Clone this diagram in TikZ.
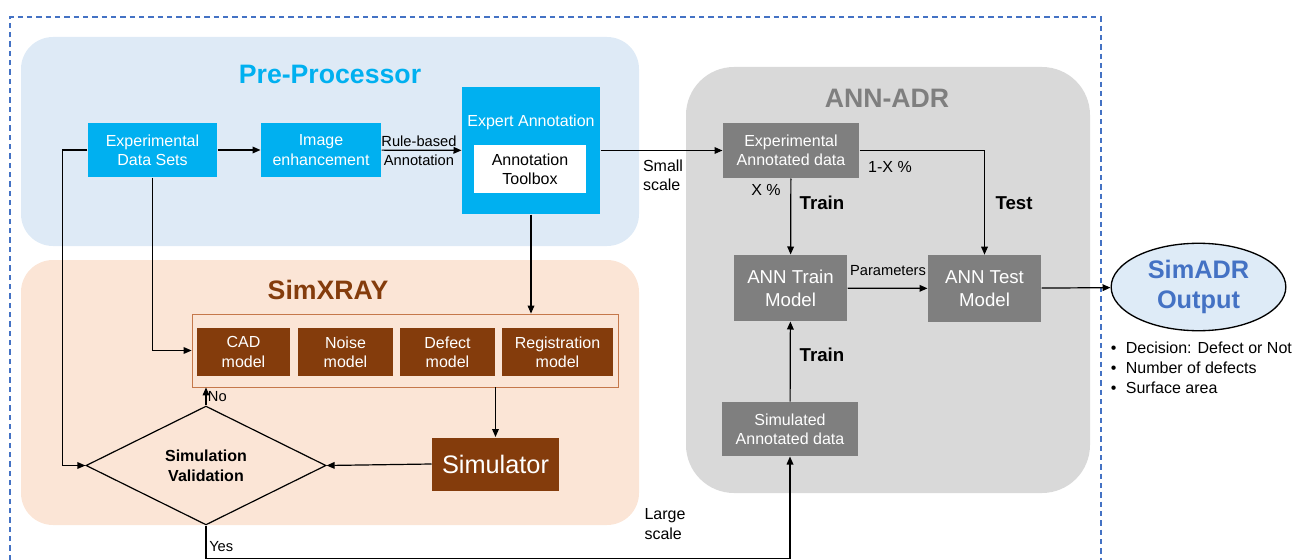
\documentclass[tikz,border=0pt]{standalone}
\usepackage{fontspec}
\setmainfont{Liberation Sans}
\usetikzlibrary{arrows.meta,shapes.geometric}

\definecolor{prebg}{RGB}{222,234,246}
\definecolor{precyan}{RGB}{0,176,240}
\definecolor{simbg}{RGB}{251,229,214}
\definecolor{simbrown}{RGB}{132,60,12}
\definecolor{simedge}{RGB}{197,120,75}
\definecolor{annbg}{RGB}{217,217,217}
\definecolor{anngray}{RGB}{127,127,127}
\definecolor{outblue}{RGB}{68,114,196}
\definecolor{outbg}{RGB}{222,235,247}
\definecolor{framecol}{RGB}{68,114,196}

\tikzset{every picture/.style={line width=0.75pt},
  arr/.style={-{Triangle[length=6pt,width=5pt]}, line width=0.9pt},
  prebox/.style={fill=precyan, text=white, align=center, inner sep=2pt, font=\fontsize{12}{14.5}\selectfont},
  modelbox/.style={fill=simbrown, text=white, align=center, inner sep=2pt, minimum height=36pt, font=\fontsize{12}{14.5}\selectfont},
  annbox/.style={fill=anngray, text=white, align=center, inner sep=2pt},
  title/.style={font=\fontsize{20}{24}\selectfont\bfseries},
  lbl/.style={font=\fontsize{12}{14.5}\selectfont, align=left},
  boldlbl/.style={font=\fontsize{14}{17}\selectfont\bfseries}
}

\begin{document}
\begin{tikzpicture}[x=0.75pt,y=0.75pt,yscale=-1,xscale=1]
	\useasboundingbox (0,0) rectangle (1311,560);

	%Outer dashed frame
	\draw [framecol, line width=0.8pt, dash pattern=on 4pt off 3pt] (10,560) -- (10,17) -- (1101,17) -- (1101,560) ;
	%Shape: Pre-Processor region
	\fill [prebg, rounded corners=24pt] (21,37) rectangle (639,246) ;
	%Shape: SimXRAY region
	\fill [simbg, rounded corners=24pt] (21,260) rectangle (639,525) ;
	%Shape: ANN-ADR region
	\fill [annbg, rounded corners=36pt] (686,67) rectangle (1090,493) ;

	% Titles
	\node [title, text=precyan] (pretitle) at (330,74) {Pre-Processor};
	\node [title, text=simbrown] (simtitle) at (328,290) {SimXRAY};
	\node [title, text=anngray] (anntitle) at (887,98) {ANN-ADR};

	% Pre-Processor boxes
	\node [prebox, minimum width=97pt, minimum height=40.5pt] (eds) at (152.5,150) {Experimental\\Data Sets};
	\node [prebox, minimum width=90pt, minimum height=40.5pt] (imgenh) at (321,150) {Image\\enhancement};
	\node [fill=precyan, minimum width=103.5pt, minimum height=95.25pt] (expann) at (531,150.5) {};
	\node [prebox, fill=none] (expannlbl) at (531,122) {Expert Annotation};
	\node [fill=white, align=center, minimum width=84pt, minimum height=36pt, inner sep=2pt, font=\fontsize{12}{14.5}\selectfont] (toolbox) at (530,169) {Annotation\\Toolbox};

	% SimXRAY boxes
	\node [draw=simedge, line width=0.6pt, minimum width=319.5pt, minimum height=54.75pt] (models) at (405,350.5) {};
	\node [modelbox, minimum width=69.75pt] (cad) at (243.5,352) {CAD\\model};
	\node [modelbox, minimum width=71.25pt] (noise) at (345.5,352) {Noise\\model};
	\node [modelbox, minimum width=71.25pt] (defect) at (447.5,352) {Defect\\model};
	\node [modelbox, minimum width=83.25pt] (regist) at (557.5,352) {Registration\\model};
	\node [fill=simbrown, text=white, minimum width=95.25pt, minimum height=39.75pt, font=\fontsize{19}{22}\selectfont] (simulator) at (495.5,464) {Simulator};
	\node [draw, diamond, line width=0.9pt, minimum width=180pt, minimum height=71.25pt, align=center, inner sep=1pt, font=\fontsize{12}{15}\selectfont\bfseries] (valid) at (206,465.5) {Simulation\\Validation};

	% ANN-ADR boxes
	\node [annbox, minimum width=102pt, minimum height=41.25pt, font=\fontsize{12}{14.5}\selectfont] (expdata) at (791,150.5) {Experimental\\Annotated data};
	\node [annbox, minimum width=84.75pt, minimum height=49.5pt, font=\fontsize{14}{17}\selectfont] (anntrain) at (790.5,288) {ANN Train\\Model};
	\node [annbox, minimum width=84.75pt, minimum height=50pt, font=\fontsize{14}{17}\selectfont] (anntest) at (984.5,288.5) {ANN Test\\Model};
	\node [annbox, minimum width=102pt, minimum height=40.5pt, font=\fontsize{12}{14.5}\selectfont] (simdata) at (790,429) {Simulated\\Annotated data};

	% Output
	\node [draw, ellipse, fill=outbg, line width=1pt, minimum width=131pt, minimum height=61.5pt, align=center, text=outblue, font=\fontsize{19}{22}\selectfont\bfseries] (output) at (1198.5,287) {SimADR\\Output};
	\node [anchor=north west, align=left, font=\fontsize{12}{15}\selectfont] (bullets) at (1106,337) {\textbullet\hspace{7pt}Decision: Defect or Not\\ \textbullet\hspace{7pt}Number of defects\\ \textbullet\hspace{7pt}Surface area};

	% Connectors
	\draw [arr] (eds) -- (imgenh) ;
	\draw [arr] (imgenh) -- (expann) ;
	\node [font=\fontsize{11}{14}\selectfont, align=center] (rulelbl) at (419,151) {Rule-based\\Annotation};
	\draw [arr] (expann) -- (expdata) ;
	\node [lbl] (smalllbl) at (663,175) {Small\\scale};
	\draw [arr] (eds.west) -- ++(-25,0) |- (valid.west) ;
	\draw [arr] (eds.south) |- (models.west) ;
	\draw [arr] (expann.south) -- (expann.south |- models.north) ;
	\draw [arr] (simulator.north |- models.south) -- (simulator.north) ;
	\draw [arr] (simulator.west) -- (valid.east) ;
	\draw [arr] (valid.north) -- node [right, font=\fontsize{11}{13}\selectfont, inner sep=1pt] (nolbl) {No} (valid.north |- models.south) ;
	\draw [arr] (valid.south) -- node [right, font=\fontsize{11}{13}\selectfont, inner sep=2pt, pos=0.65] (yeslbl) {Yes} ++(0,33) -| (simdata.south) ;
	\node [lbl] (largelbl) at (665,524) {Large\\scale};
	\draw [arr] (expdata) -- (anntrain) ;
	\draw [arr] (expdata.east) -| (anntest.north) ;
	\draw [arr] (anntrain) -- (anntest) ;
	\draw [arr] (anntest) -- (output) ;
	\draw [arr] (simdata) -- (anntrain) ;

	% Text Node
	\node [lbl] (xlbl) at (766,190) {X \%};
	\node [lbl] (onexlbl) at (890,167) {1-X \%};
	\node [boldlbl] (trainlbl) at (822,203) {Train};
	\node [boldlbl] (testlbl) at (1014,203) {Test};
	\node [font=\fontsize{11}{13}\selectfont] (paramlbl) at (888,271) {Parameters};
	\node [boldlbl] (trainlbltwo) at (822,355) {Train};

\end{tikzpicture}
\end{document}
